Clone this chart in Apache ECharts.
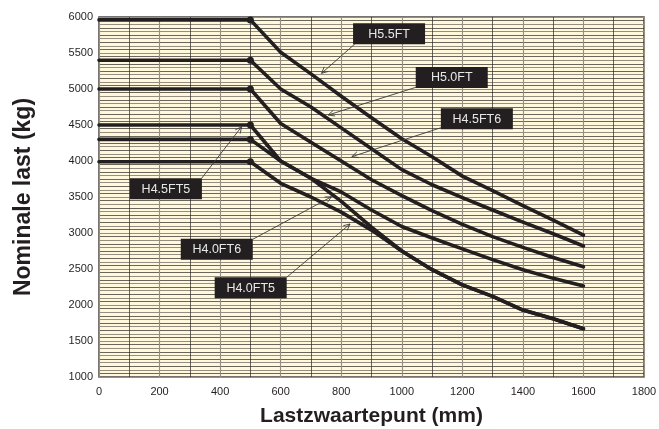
<!DOCTYPE html>
<html>
<head>
<meta charset="utf-8">
<script src="https://cdn.jsdelivr.net/npm/echarts@6/dist/echarts.min.js"></script>
<style>
html,body{margin:0;padding:0;background:#fff;}
#chart{width:659px;height:429px;}
</style>
</head>
<body>
<div id="chart"></div>
<script>
// Load centre (mm)
const loadCentre = [0, 500, 600, 700, 800, 900, 1000, 1100, 1200, 1300, 1400, 1500, 1600];
// Rated capacity (kg) per model
const h55ft  = [5960, 5960, 5510, 5210, 4900, 4600, 4310, 4060, 3790, 3590, 3380, 3180, 2970];
const h50ft  = [5400, 5400, 5000, 4750, 4460, 4170, 3880, 3670, 3490, 3320, 3150, 2990, 2820];
const h45ft6 = [5000, 5000, 4520, 4260, 4000, 3740, 3520, 3310, 3120, 2950, 2800, 2660, 2530];
const h45ft5 = [4500, 4500, 4000, 3760, 3570, 3320, 3090, 2930, 2780, 2630, 2490, 2370, 2265];
const h40ft6 = [4300, 4300, 4000, 3760, 3440, 3080, 2750, 2490, 2280, 2120, 1930, 1810, 1670];
const h40ft5 = [3990, 3990, 3690, 3500, 3290, 3040, 2750, 2490, 2280, 2120, 1930, 1810, 1670];
const seriesNames = ['H5.5FT', 'H5.0FT', 'H4.5FT6', 'H4.5FT5', 'H4.0FT6', 'H4.0FT5'];
const seriesValues = [h55ft, h50ft, h45ft6, h45ft5, h40ft6, h40ft5];
// Callout labels: box centre, leader start, arrow tip (data units)
const calloutNames = ['H5.5FT', 'H5.0FT', 'H4.5FT6', 'H4.5FT5', 'H4.0FT6', 'H4.0FT5'];
const calloutBox   = [[958, 5767], [1165, 5160], [1248, 4586], [221, 3615], [389, 2775], [501, 2239]];
const calloutTail  = [[845, 5625], [1047, 5024], [1129, 4462], [339, 3760], [508, 2913], [620, 2385]];
const calloutTip   = [[735, 5218], [757, 4639], [835, 4060], [471, 4476], [768, 3504], [829, 3125]];
const xTicks = [0, 200, 400, 600, 800, 1000, 1200, 1400, 1600, 1800];
const yTicks = [1000, 1500, 2000, 2500, 3000, 3500, 4000, 4500, 5000, 5500, 6000];

const FONT = "'Liberation Sans', Arial, Helvetica, sans-serif";
const INK = '#231f20';

const chart = echarts.init(document.getElementById('chart'), null, {renderer: 'canvas'});

const lineSeries = seriesValues.map((vals, si) => ({
  name: seriesNames[si],
  type: 'line',
  z: 3,
  symbol: 'none',
  showSymbol: true,
  animation: false,
  lineStyle: {color: INK, width: 3.6, join: 'round', cap: 'round'},
  itemStyle: {color: INK},
  data: vals.map((v, i) => {
    const item = {value: [loadCentre[i], v]};
    if (loadCentre[i] === 500) { item.symbol = 'circle'; item.symbolSize = 7; }
    return item;
  })
}));

const calloutSeries = {
  type: 'custom',
  z: 10,
  animation: false,
  silent: true,
  data: calloutNames.map((n, i) => [calloutBox[i][0], calloutBox[i][1], calloutTail[i][0], calloutTail[i][1], calloutTip[i][0], calloutTip[i][1]]),
  renderItem: function (params, api) {
    const c = api.coord([api.value(0), api.value(1)]);
    const t = api.coord([api.value(2), api.value(3)]);
    const p = api.coord([api.value(4), api.value(5)]);
    const w = 72, h = 21;
    const ang = Math.atan2(p[1] - t[1], p[0] - t[0]);
    const L = 7, a = 0.45;
    const h1 = [p[0] - L * Math.cos(ang - a), p[1] - L * Math.sin(ang - a)];
    const h2 = [p[0] - L * Math.cos(ang + a), p[1] - L * Math.sin(ang + a)];
    return {
      type: 'group',
      children: [
        {type: 'line', shape: {x1: t[0], y1: t[1], x2: p[0], y2: p[1]}, style: {stroke: '#3a3a3a', lineWidth: 0.9}},
        {type: 'polyline', shape: {points: [h1, p, h2]}, style: {stroke: '#3a3a3a', lineWidth: 0.9, fill: null}},
        {type: 'rect', shape: {x: c[0] - w / 2, y: c[1] - h / 2, width: w, height: h}, style: {fill: '#231f20'}},
        {type: 'text', x: c[0], y: c[1] + 0.5, style: {text: calloutNames[params.dataIndex], fill: '#e8e8e8', font: '12.5px ' + FONT, align: 'center', verticalAlign: 'middle'}}
      ]
    };
  }
};

chart.setOption({
  animation: false,
  backgroundColor: '#ffffff',
  grid: {left: 99, right: 15, top: 17, bottom: 52, show: true, backgroundColor: '#fff8dc', borderColor: '#4a4744', borderWidth: 1.5, containLabel: false, outerBoundsMode: 'none'},
  xAxis: {
    type: 'value', min: 0, max: 1800, interval: 200,
    name: 'Lastzwaartepunt (mm)', nameLocation: 'middle', nameGap: 29,
    nameTextStyle: {fontFamily: FONT, fontWeight: 'bold', fontSize: 21, color: INK},
    axisLine: {show: false}, axisTick: {show: false},
    axisLabel: {fontFamily: FONT, fontSize: 11, color: INK, margin: 9,
      formatter: v => xTicks.indexOf(v) >= 0 ? String(v) : ''},
    splitLine: {show: true, lineStyle: {color: '#958f82', width: 1.1}},
    minorTick: {show: false, splitNumber: 2},
    minorSplitLine: {show: true, lineStyle: {color: '#2a2724', width: 0.7}}
  },
  yAxis: {
    type: 'value', min: 1000, max: 6000, interval: 100,
    name: 'Nominale last (kg)', nameLocation: 'middle', nameGap: 64, nameRotate: 90,
    nameTextStyle: {fontFamily: FONT, fontWeight: 'bold', fontSize: 23, color: INK},
    axisLine: {show: false}, axisTick: {show: false},
    axisLabel: {fontFamily: FONT, fontSize: 11, color: INK, margin: 6,
      formatter: v => yTicks.indexOf(v) >= 0 ? String(v) : ''},
    splitLine: {show: true, lineStyle: {color: '#958f82', width: 1.1}},
    minorTick: {show: false, splitNumber: 2},
    minorSplitLine: {show: true, lineStyle: {color: '#2a2724', width: 0.7}}
  },
  series: lineSeries.concat([calloutSeries])
});
</script>
</body>
</html>
